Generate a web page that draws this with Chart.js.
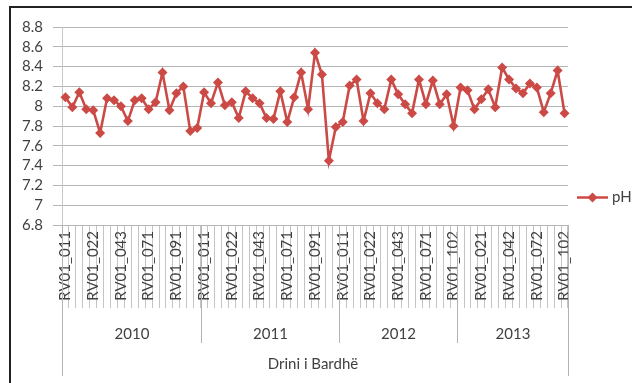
<!DOCTYPE html>
<html>
<head>
<meta charset="utf-8">
<script src="https://cdn.jsdelivr.net/npm/chart.js@4.4.1/dist/chart.umd.min.js"></script>
<style>
  html, body { margin: 0; padding: 0; background: #fff; }
  #wrap { position: relative; width: 632px; height: 383px; overflow: hidden; }
  #frame { position: absolute; left: 9px; top: 6px; width: 700px; height: 500px;
           border: 2px solid #222; box-sizing: border-box; }
  #c { position: absolute; left: 0; top: 0; }
</style>
</head>
<body>
<div id="wrap">
  <div id="frame"></div>
  <canvas id="c" width="632" height="383"></canvas>
</div>
<script>
// Sample codes per year (station RV01)
const codes2010 = ['RV01_011','RV01_012','RV01_013','RV01_021','RV01_022','RV01_031','RV01_041','RV01_042','RV01_043','RV01_051',
                   'RV01_061','RV01_062','RV01_071','RV01_072','RV01_081','RV01_082','RV01_091','RV01_092','RV01_101','RV01_102'];
const codes2011 = ['RV01_011','RV01_012','RV01_013','RV01_021','RV01_022','RV01_031','RV01_041','RV01_042','RV01_043','RV01_051',
                   'RV01_061','RV01_062','RV01_071','RV01_072','RV01_081','RV01_082','RV01_091','RV01_092','RV01_101','RV01_102'];
const codes2012 = ['RV01_011','RV01_012','RV01_013','RV01_021','RV01_022','RV01_031','RV01_041','RV01_042','RV01_043',
                   'RV01_051','RV01_061','RV01_062','RV01_071','RV01_081','RV01_091','RV01_101','RV01_102'];
const codes2013 = ['RV01_011','RV01_012','RV01_013','RV01_021','RV01_022','RV01_031','RV01_041','RV01_042',
                   'RV01_051','RV01_061','RV01_071','RV01_072','RV01_081','RV01_091','RV01_101','RV01_102'];

const years = ['2010', '2011', '2012', '2013'];
const riverName = 'Drini i Bardhë';
const seriesName = 'pH';

// pH readings per year
const ph2010 = [8.09, 7.99, 8.14, 7.97, 7.96, 7.73, 8.08, 8.06, 8.00, 7.85, 8.06, 8.08, 7.97, 8.04, 8.34, 7.96, 8.13, 8.20, 7.75, 7.78];
const ph2011 = [8.14, 8.03, 8.24, 8.01, 8.04, 7.88, 8.15, 8.08, 8.03, 7.88, 7.87, 8.15, 7.84, 8.09, 8.34, 7.97, 8.54, 8.32, 7.45, 7.79];
const ph2012 = [7.84, 8.21, 8.27, 7.85, 8.13, 8.03, 7.97, 8.27, 8.12, 8.02, 7.93, 8.27, 8.02, 8.26, 8.02, 8.12, 7.80];
const ph2013 = [8.19, 8.16, 7.97, 8.07, 8.17, 7.99, 8.39, 8.27, 8.18, 8.13, 8.23, 8.19, 7.94, 8.13, 8.36, 7.93];

const yTicks = [6.8, 7, 7.2, 7.4, 7.6, 7.8, 8, 8.2, 8.4, 8.6, 8.8];

const codeGroups = [codes2010, codes2011, codes2012, codes2013];
const categories = [].concat(...codeGroups);
const phValues = [].concat(ph2010, ph2011, ph2012, ph2013);

const LINE_RED = '#cc4a46';
const TEXT = '#3f3f3f';
const FONT = 'Lato';

// Year row, river name and legend under / beside the category axis
const groupAxisPlugin = {
  id: 'groupAxis',
  afterDraw(chart) {
    const ctx = chart.ctx;
    const xs = chart.scales.x;
    const area = chart.chartArea;
    const half = (xs.getPixelForValue(1) - xs.getPixelForValue(0)) / 2;
    const edge = i => Math.round(xs.getPixelForValue(i) - half) + 0.5;
    ctx.save();
    ctx.lineWidth = 1;
    ctx.strokeStyle = '#b3b3b3';
    ctx.fillStyle = TEXT;
    ctx.font = '15px ' + FONT;
    ctx.textAlign = 'center';
    ctx.textBaseline = 'middle';
    let start = 0;
    codeGroups.forEach((g, k) => {
      const end = start + g.length;
      const x0 = edge(start), x1 = edge(end);
      const outerL = k === 0, outerR = k === codeGroups.length - 1;
      ctx.beginPath();
      ctx.moveTo(x0, area.bottom); ctx.lineTo(x0, outerL ? 376 : 343);
      ctx.moveTo(x1, area.bottom); ctx.lineTo(x1, outerR ? 376 : 343);
      ctx.stroke();
      ctx.fillText(years[k], (x0 + x1) / 2, 334);
      start = end;
    });
    ctx.font = '15px ' + FONT;
    ctx.fillText(riverName, (area.left + area.right) / 2 - 2, 364);

    // legend entry: line with diamond marker
    const ds = chart.data.datasets[0];
    const ly = 197.5;
    ctx.strokeStyle = ds.borderColor;
    ctx.lineWidth = 2.5;
    ctx.beginPath(); ctx.moveTo(577, ly); ctx.lineTo(608, ly); ctx.stroke();
    ctx.fillStyle = ds.borderColor;
    const r = 5, cx = 592.5;
    ctx.beginPath();
    ctx.moveTo(cx, ly - r); ctx.lineTo(cx + r, ly); ctx.lineTo(cx, ly + r); ctx.lineTo(cx - r, ly);
    ctx.closePath(); ctx.fill();
    ctx.fillStyle = TEXT;
    ctx.font = '15px ' + FONT;
    ctx.textAlign = 'left';
    ctx.fillText(ds.label, 612, ly);
    ctx.restore();
  }
};

new Chart(document.getElementById('c'), {
  type: 'line',
  data: {
    labels: categories,
    datasets: [{
      label: seriesName,
      data: phValues,
      borderColor: LINE_RED,
      backgroundColor: LINE_RED,
      borderWidth: 2.6,
      tension: 0,
      pointStyle: 'rectRot',
      pointRadius: 5,
      pointBorderWidth: 0,
      pointBackgroundColor: LINE_RED,
      pointBorderColor: LINE_RED
    }]
  },
  options: {
    responsive: false,
    animation: false,
    devicePixelRatio: 1,
    layout: { padding: { left: 0, top: 27, right: 64, bottom: 0 } },
    plugins: { legend: { display: false }, tooltip: { enabled: false } },
    scales: {
      x: {
        type: 'category',
        offset: true,
        grid: { offset: true, drawOnChartArea: false, tickLength: 83, color: '#c4c4c4' },
        border: { color: '#b5b5b5' },
        ticks: {
          autoSkip: false, minRotation: 90, maxRotation: 90, padding: -77,
          color: TEXT, font: { family: FONT, size: 15 },
          callback(value, index) { return index % 4 === 0 ? this.getLabelForValue(value) : ''; }
        },
        afterFit(s) { s.height = 158; }
      },
      y: {
        min: 6.8, max: 8.8,
        afterBuildTicks(s) { s.ticks = yTicks.map(v => ({ value: v })); },
        grid: { color: '#b5b5b5', tickLength: 9 },
        border: { color: '#c8c8c8' },
        ticks: { autoSkip: false, padding: 10, color: TEXT, font: { family: FONT, size: 15 }, callback: v => String(v) },
        afterFit(s) { s.width = 62; }
      }
    }
  },
  plugins: [groupAxisPlugin]
});
</script>
</body>
</html>
